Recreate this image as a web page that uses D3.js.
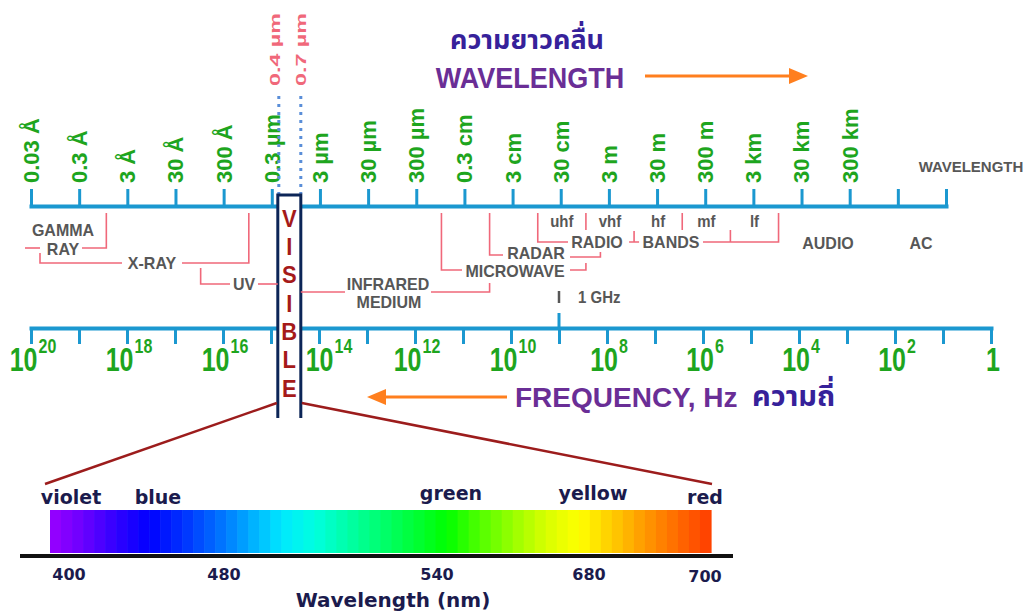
<!DOCTYPE html>
<html>
<head>
<meta charset="utf-8">
<script src="https://cdn.jsdelivr.net/npm/d3@7"></script>
<style>
  html, body { margin: 0; padding: 0; background: #fff; }
  svg { display: block; }
  text { font-family: "Liberation Sans", Arial, Helvetica, sans-serif; }
</style>
</head>
<body>
<svg id="chart" width="1035" height="611"></svg>
<script>
// ---------------- DATA ----------------
const wavelengthValues = [3e-12, 3e-11, 3e-10, 3e-9, 3e-8, 3e-7, 3e-6, 3e-5, 3e-4, 3e-3, 3e-2, 3e-1, 3, 30, 300, 3e3, 3e4, 3e5, 3e6, 3e7];
const wavelengthLabels = ["0.03 Å", "0.3 Å", "3 Å", "30 Å", "300 Å", "0.3 µm", "3 µm", "30 µm", "300 µm", "0.3 cm", "3 cm", "30 cm", "3 m", "30 m", "300 m", "3 km", "30 km", "300 km", "", ""];
const frequencyExponents = [20, 19, 18, 17, 16, 15, 14, 13, 12, 11, 10, 9, 8, 7, 6, 5, 4, 3, 2, 1, 0];
const frequencyLabelExponents = [20, 18, 16, 14, 12, 10, 8, 6, 4, 2, 0];
const visibleLimits = [0.4e-6, 0.7e-6];          // metres
const visibleLimitLabels = ["0.4 µm", "0.7 µm"];
const visibleLetters = ["V", "I", "S", "I", "B", "L", "E"];
const radioBands = ["uhf", "vhf", "hf", "mf", "lf"];
const radioBandEdges = [0.1, 1, 10, 100, 1000, 1e4];   // metres
const spectrumTickLabels = [400, 480, 540, 680, 700];
const spectrumColorNames = ["violet", "blue", "green", "yellow", "red"];
const spectrumColors = ["#9a00ff", "#6a00ff", "#3000ff", "#0000ff", "#0030ff", "#0068ff", "#00a8ff", "#00e8ff", "#00ffe0", "#00ffa8", "#00ff70", "#00ff38", "#00ff00", "#50ff00", "#98ff00", "#d8ff00", "#ffff00", "#ffcc00", "#ff9900", "#ff6a00", "#ff3c00"];

// ---------------- STYLE ----------------
const BLUE = "#1b98d0", GREEN = "#1ea51e", GRAY = "#575757", PINK = "#f0687a",
      PURPLE = "#6a2e96", THAI = "#36219a", ORANGE = "#ff7f1e", NAVY = "#0c2557",
      DARKRED = "#a51a1a", LINERED = "#9c1c1c", SPEC = "#1b1b4d";

const svg = d3.select("#chart");

function txt(g, x, y, s, o = {}) {
  let tr = `translate(${x},${y})`;
  if (o.sy) tr += ` scale(1,${o.sy})`;
  if (o.rot) tr += ` rotate(${o.rot})`;
  const t = g.append("text").attr("transform", tr).text(s)
    .attr("font-size", o.size || 16)
    .attr("font-weight", o.weight || "bold")
    .attr("fill", o.fill || GRAY)
    .attr("text-anchor", o.anchor || "middle");
  if (o.dy) t.attr("dy", o.dy);
  if (o.family) t.style("font-family", o.family);
  if (o.len) t.attr("textLength", o.len).attr("lengthAdjust", "spacingAndGlyphs");
  return t;
}

// ---------------- SCALES ----------------
const xW = d3.scaleLog().domain([3e-12, 3e7]).range([31, 946]);
const xF = d3.scaleLog().domain([1e20, 1]).range([31, 991]);
const yW = 206, yF = 328;

// ---------------- WAVELENGTH AXIS ----------------
const gW = svg.append("g").attr("transform", `translate(0,${yW})`)
  .call(d3.axisTop(xW).tickValues(wavelengthValues).tickSize(17).tickSizeOuter(0).tickFormat(""));
gW.select(".domain").attr("stroke", BLUE).attr("stroke-width", 4).attr("stroke-linecap", "square");
gW.selectAll(".tick line").attr("stroke", BLUE).attr("stroke-width", 3);

wavelengthValues.forEach((v, i) => {
  if (wavelengthLabels[i]) txt(svg, xW(v), 183, wavelengthLabels[i], { rot: -90, anchor: "start", size: 22, fill: GREEN, dy: "0.36em" });
});
txt(svg, 971, 167, "WAVELENGTH", { size: 15, fill: GRAY, dy: "0.35em" });

// ---------------- FREQUENCY AXIS ----------------
const gF = svg.append("g").attr("transform", `translate(0,${yF})`)
  .call(d3.axisBottom(xF).tickValues(frequencyExponents.map(e => Math.pow(10, e))).tickSize(16).tickSizeOuter(0).tickFormat(""));
gF.select(".domain").attr("stroke", BLUE).attr("stroke-width", 4).attr("stroke-linecap", "square");
gF.selectAll(".tick line").attr("stroke", BLUE).attr("stroke-width", 3);
// 1 GHz marker
svg.append("line").attr("x1", xF(1e9)).attr("x2", xF(1e9)).attr("y1", yF - 15).attr("y2", yF)
  .attr("stroke", BLUE).attr("stroke-width", 3);
svg.append("line").attr("x1", xF(1e9)).attr("x2", xF(1e9)).attr("y1", 291).attr("y2", 303)
  .attr("stroke", GRAY).attr("stroke-width", 2.5);
txt(svg, 578, 297, "1 GHz", { anchor: "start", size: 15, fill: GRAY, dy: "0.35em", sy: 1.1 });

frequencyLabelExponents.forEach(e => {
  let cx = xF(Math.pow(10, e)) + 2;
  if (e === 14) cx += 8;
  const t = svg.append("text")
    .attr("transform", `translate(${cx},371) scale(1,1.3)`)
    .attr("text-anchor", "middle").attr("font-weight", "bold").attr("fill", GREEN);
  if (e === 0) {
    t.append("tspan").attr("font-size", 25).text("1");
  } else {
    t.append("tspan").attr("font-size", 25).text("10");
    t.append("tspan").attr("font-size", 16).attr("dy", -14).attr("dx", 1).text(e);
  }
});

// ---------------- TITLES & ARROWS ----------------
const thaiFont = "'Noto Sans Thai','Noto Sans',sans-serif";
txt(svg, 527, 49, "ความยาวคลื่น", { size: 27, fill: THAI, family: thaiFont });
txt(svg, 530, 88, "WAVELENGTH", { size: 27, fill: PURPLE, sy: 1.1 });
txt(svg, 515, 407, "FREQUENCY, Hz", { anchor: "start", size: 28, fill: PURPLE });
txt(svg, 752, 406, "ความถี่", { anchor: "start", size: 29, fill: THAI, family: thaiFont });

function arrow(x1, x2, y, dir) {
  const tip = dir > 0 ? x2 : x1;
  const base = tip - dir * 19;
  svg.append("line").attr("x1", dir > 0 ? x1 : base).attr("x2", dir > 0 ? base : x2)
    .attr("y1", y).attr("y2", y).attr("stroke", ORANGE).attr("stroke-width", 3);
  svg.append("path").attr("d", `M${tip},${y} L${base},${y - 8} L${base},${y + 8} Z`).attr("fill", ORANGE);
}
arrow(645, 808, 76, 1);
arrow(367, 507, 397, -1);

// ---------------- VISIBLE WINDOW ----------------
const vL = xW(visibleLimits[0]), vR = vL + 23;
[vL + 1, vR].forEach(x => {
  svg.append("line").attr("x1", x).attr("x2", x).attr("y1", 96).attr("y2", 194)
    .attr("stroke", "#5a8ed8").attr("stroke-width", 3).attr("stroke-dasharray", "3,5");
});
visibleLimitLabels.forEach((s, i) => {
  txt(svg, (i === 0 ? vL - 3 : vR), 86, s, { rot: -90, anchor: "start", size: 15, fill: PINK, dy: "0.36em", len: 73 });
});
svg.append("path").attr("d", `M${vL},418 V195 H${vR} V418`)
  .attr("fill", "#fff").attr("stroke", NAVY).attr("stroke-width", 3);
visibleLetters.forEach((c, i) => {
  txt(svg, (vL + vR) / 2, 218 + i * 28.3, c, { size: 22, fill: DARKRED, dy: "0.36em", sy: 1.1 });
});
svg.append("line").attr("x1", vL - 1).attr("y1", 403).attr("x2", 45).attr("y2", 484)
  .attr("stroke", LINERED).attr("stroke-width", 2.5);
svg.append("line").attr("x1", vR + 1).attr("y1", 403).attr("x2", 712).attr("y2", 484)
  .attr("stroke", LINERED).attr("stroke-width", 2.5);

// ---------------- BAND BRACKETS ----------------
const bTop = 213;
const brackets = [
  `M25,248 H40`, `M82,248 H${xW(1.1e-10)} V${bTop}`,
  `M40,253 V263 H122`, `M182,263 H${xW(1e-7)} V${bTop}`,
  `M${xW(1e-8)},268 V284 H230`, `M258,284 H${vL}`,
  `M${vR},292 H345`, `M431,292 H${xW(1e-2)} V283`,
  `M${xW(1e-3)},${bTop} V270 H462`, `M570,270 H${xW(1)} V263`,
  `M${xW(1e-2)},${bTop} V255 H503`, `M570,257 H${xW(2)} V252`,
  `M${xW(radioBandEdges[0])},${bTop} V242 H568`, `M703,242 H${xW(radioBandEdges[5])} V${bTop}`,
  `M${xW(radioBandEdges[2])},231 V242 M${xW(radioBandEdges[2]) - 5},242 H${xW(radioBandEdges[2]) + 5}`,
  `M${xW(radioBandEdges[4])},230 V242`,
  `M${xW(radioBandEdges[1])},${bTop} V230`, `M${xW(radioBandEdges[3])},${bTop} V230`
];
svg.append("g").selectAll("path").data(brackets).join("path")
  .attr("d", d => d).attr("fill", "none").attr("stroke", PINK).attr("stroke-width", 1.6);

const bl = { size: 16, fill: GRAY, dy: "0.35em", sy: 1.05 };
txt(svg, 63, 230, "GAMMA", bl);
txt(svg, 63, 249, "RAY", bl);
txt(svg, 152, 263, "X-RAY", bl);
txt(svg, 244, 284, "UV", bl);
txt(svg, 388, 284, "INFRARED", bl);
txt(svg, 389, 302, "MEDIUM", bl);
txt(svg, 515, 271, "MICROWAVE", bl);
txt(svg, 536, 253, "RADAR", bl);
txt(svg, 597, 242, "RADIO", bl);
txt(svg, 671, 242, "BANDS", bl);
txt(svg, 828, 243, "AUDIO", bl);
txt(svg, 921, 243, "AC", bl);
radioBands.forEach((b, i) => {
  const cx = Math.sqrt(radioBandEdges[i] * radioBandEdges[i + 1]);
  txt(svg, xW(cx), 221, b, { size: 15, fill: GRAY, dy: "0.35em", sy: 1.1 });
});

// ---------------- VISIBLE SPECTRUM ----------------
const specX0 = 50, specX1 = 711, specY = 510, specH = 43;
const colorScale = d3.scaleLinear()
  .domain(spectrumColors.map((c, i) => i / (spectrumColors.length - 1)))
  .range(spectrumColors).interpolate(d3.interpolateRgb);
const nStrips = 60;
const stripW = (specX1 - specX0) / nStrips;
svg.append("g").selectAll("rect").data(d3.range(nStrips)).join("rect")
  .attr("x", i => specX0 + i * stripW).attr("y", specY)
  .attr("width", stripW + 0.6).attr("height", specH)
  .attr("fill", i => colorScale((i + 0.5) / nStrips));
svg.append("line").attr("x1", 20).attr("x2", 733).attr("y1", 556).attr("y2", 556)
  .attr("stroke", "#111").attr("stroke-width", 4);

const specPos = d3.scaleLinear().domain(spectrumTickLabels).range([69, 224, 437, 589, 705]);
const namePos = [71, 158, 451, 593, 705];
const nameY = [504, 504, 500, 500, 504];
const dv = "'DejaVu Sans', Verdana, sans-serif";
spectrumColorNames.forEach((n, i) => {
  txt(svg, namePos[i], nameY[i], n, { size: 19, fill: SPEC, family: dv });
});
spectrumTickLabels.forEach((v, i) => {
  txt(svg, specPos(v), i === 4 ? 582 : 580, v, { size: 16, fill: SPEC, family: dv });
});
txt(svg, 393, 607, "Wavelength (nm)", { size: 20, fill: SPEC, family: dv });
</script>
</body>
</html>
